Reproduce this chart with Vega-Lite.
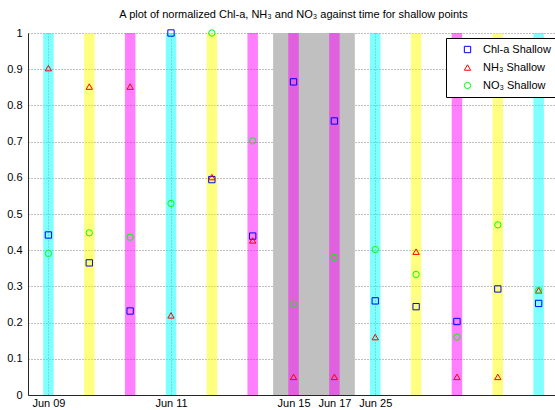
{
  "$schema": "https://vega.github.io/schema/vega-lite/v6.json",
  "autosize": {"type": "none"},
  "padding": {"left": 28, "top": 33, "right": 0, "bottom": 15},
  "width": 527,
  "height": 362,
  "background": "white",
  "config": {
    "view": {"stroke": null},
    "font": "Liberation Sans",
    "axis": {
      "labelFont": "Liberation Sans",
      "labelFontSize": 11,
      "labelColor": "#000000",
      "domainColor": "#262626",
      "tickColor": "#262626",
      "ticks": false,
      "labelOverlap": false,
      "labelFlush": false,
      "labelBound": false,
      "gridColor": "#808080",
      "gridDash": [1, 2],
      "gridOpacity": 1,
      "title": null,
      "zindex": 1
    }
  },
  "title": {
    "text": "A plot of normalized Chl-a, NH₃ and NO₃ against time for shallow points",
    "fontSize": 11,
    "fontWeight": "normal",
    "font": "Liberation Sans",
    "color": "#000000",
    "anchor": "middle",
    "dx": 2,
    "offset": 7
  },
  "datasets": {
    "region": [{"start": 6.5, "end": 8.5}],
    "bands": [
      {"idx": 1, "kind": "cyan"},
      {"idx": 2, "kind": "yellow"},
      {"idx": 3, "kind": "magenta"},
      {"idx": 4, "kind": "cyan"},
      {"idx": 5, "kind": "yellow"},
      {"idx": 6, "kind": "magenta"},
      {"idx": 7, "kind": "magenta"},
      {"idx": 8, "kind": "magenta"},
      {"idx": 9, "kind": "cyan"},
      {"idx": 10, "kind": "yellow"},
      {"idx": 11, "kind": "magenta"},
      {"idx": 12, "kind": "yellow"},
      {"idx": 13, "kind": "cyan"}
    ],
    "points": [
      {"idx": 1, "series": "Chl-a Shallow", "value": 0.442},
      {"idx": 2, "series": "Chl-a Shallow", "value": 0.365},
      {"idx": 3, "series": "Chl-a Shallow", "value": 0.232},
      {"idx": 4, "series": "Chl-a Shallow", "value": 1.0},
      {"idx": 5, "series": "Chl-a Shallow", "value": 0.595},
      {"idx": 6, "series": "Chl-a Shallow", "value": 0.439},
      {"idx": 7, "series": "Chl-a Shallow", "value": 0.865},
      {"idx": 8, "series": "Chl-a Shallow", "value": 0.757},
      {"idx": 9, "series": "Chl-a Shallow", "value": 0.26},
      {"idx": 10, "series": "Chl-a Shallow", "value": 0.244},
      {"idx": 11, "series": "Chl-a Shallow", "value": 0.203},
      {"idx": 12, "series": "Chl-a Shallow", "value": 0.293},
      {"idx": 13, "series": "Chl-a Shallow", "value": 0.253},
      {"idx": 1, "series": "NH₃ Shallow", "value": 0.903},
      {"idx": 2, "series": "NH₃ Shallow", "value": 0.852},
      {"idx": 3, "series": "NH₃ Shallow", "value": 0.852},
      {"idx": 4, "series": "NH₃ Shallow", "value": 0.22},
      {"idx": 5, "series": "NH₃ Shallow", "value": 0.602},
      {"idx": 6, "series": "NH₃ Shallow", "value": 0.427},
      {"idx": 7, "series": "NH₃ Shallow", "value": 0.05},
      {"idx": 8, "series": "NH₃ Shallow", "value": 0.05},
      {"idx": 9, "series": "NH₃ Shallow", "value": 0.16},
      {"idx": 10, "series": "NH₃ Shallow", "value": 0.396},
      {"idx": 11, "series": "NH₃ Shallow", "value": 0.05},
      {"idx": 12, "series": "NH₃ Shallow", "value": 0.05},
      {"idx": 13, "series": "NH₃ Shallow", "value": 0.289},
      {"idx": 1, "series": "NO₃ Shallow", "value": 0.391},
      {"idx": 2, "series": "NO₃ Shallow", "value": 0.448},
      {"idx": 3, "series": "NO₃ Shallow", "value": 0.436},
      {"idx": 4, "series": "NO₃ Shallow", "value": 0.529},
      {"idx": 5, "series": "NO₃ Shallow", "value": 1.0},
      {"idx": 6, "series": "NO₃ Shallow", "value": 0.702},
      {"idx": 7, "series": "NO₃ Shallow", "value": 0.251},
      {"idx": 8, "series": "NO₃ Shallow", "value": 0.38},
      {"idx": 9, "series": "NO₃ Shallow", "value": 0.402},
      {"idx": 10, "series": "NO₃ Shallow", "value": 0.333},
      {"idx": 11, "series": "NO₃ Shallow", "value": 0.16},
      {"idx": 12, "series": "NO₃ Shallow", "value": 0.47},
      {"idx": 13, "series": "NO₃ Shallow", "value": 0.289}
    ]
  },
  "layer": [
    {
      "data": {"name": "region"},
      "mark": {"type": "rect", "color": "#C0C0C0"},
      "encoding": {
        "x": {
          "field": "start",
          "type": "quantitative",
          "scale": {"domain": [0.5, 13.4], "nice": false, "zero": false},
          "axis": {
            "values": [1, 4, 7, 8, 9],
            "labelExpr": "datum.value == 1 ? 'Jun 09' : datum.value == 4 ? 'Jun 11' : datum.value == 7 ? 'Jun 15' : datum.value == 8 ? 'Jun 17' : 'Jun 25'",
            "grid": true,
            "labelPadding": 2
          }
        },
        "x2": {"field": "end"},
        "y": {
          "datum": 0,
          "type": "quantitative",
          "scale": {"domain": [0, 1], "nice": false},
          "axis": {
            "values": [0, 0.1, 0.2, 0.3, 0.4, 0.5, 0.6, 0.7, 0.8, 0.9, 1],
            "format": "~g",
            "grid": true,
            "labelPadding": 6
          }
        },
        "y2": {"datum": 1}
      }
    },
    {
      "data": {"name": "bands"},
      "mark": {"type": "rule", "strokeWidth": 10.5, "opacity": 0.5, "strokeCap": "butt"},
      "encoding": {
        "x": {"field": "idx", "type": "quantitative"},
        "y": {
          "datum": 0,
          "type": "quantitative",
          "axis": {
            "values": [0, 0.1, 0.2, 0.3, 0.4, 0.5, 0.6, 0.7, 0.8, 0.9, 1],
            "format": "~g",
            "grid": true,
            "labelPadding": 6
          }
        },
        "y2": {"datum": 1},
        "stroke": {
          "field": "kind",
          "type": "nominal",
          "scale": {"domain": ["cyan", "yellow", "magenta"], "range": ["#00FFFF", "#FFFF00", "#FF00FF"]},
          "legend": null
        }
      }
    },
    {
      "data": {"name": "points"},
      "mark": {"type": "point", "filled": false, "strokeWidth": 1, "size": 40, "opacity": 1},
      "encoding": {
        "x": {"field": "idx", "type": "quantitative"},
        "y": {
          "field": "value",
          "type": "quantitative",
          "axis": {
            "values": [0, 0.1, 0.2, 0.3, 0.4, 0.5, 0.6, 0.7, 0.8, 0.9, 1],
            "format": "~g",
            "grid": true,
            "labelPadding": 6
          }
        },
        "color": {
          "field": "series",
          "type": "nominal",
          "scale": {"domain": ["Chl-a Shallow", "NH₃ Shallow", "NO₃ Shallow"], "range": ["#0000FF", "#FF0000", "#00FF00"]},
          "legend": {
            "title": null,
            "orient": "none",
            "legendX": 418,
            "legendY": 5,
            "strokeColor": "#000000",
            "fillColor": "#FFFFFF",
            "padding": 6,
            "rowPadding": 6,
            "labelFont": "Liberation Sans",
            "labelFontSize": 11,
            "labelColor": "#000000",
            "symbolOffset": 10,
            "labelOffset": 10,
            "symbolStrokeWidth": 1,
            "symbolSize": 40
          }
        },
        "shape": {
          "field": "series",
          "type": "nominal",
          "scale": {"domain": ["Chl-a Shallow", "NH₃ Shallow", "NO₃ Shallow"], "range": ["square", "triangle-up", "circle"]}
        }
      }
    }
  ]
}
